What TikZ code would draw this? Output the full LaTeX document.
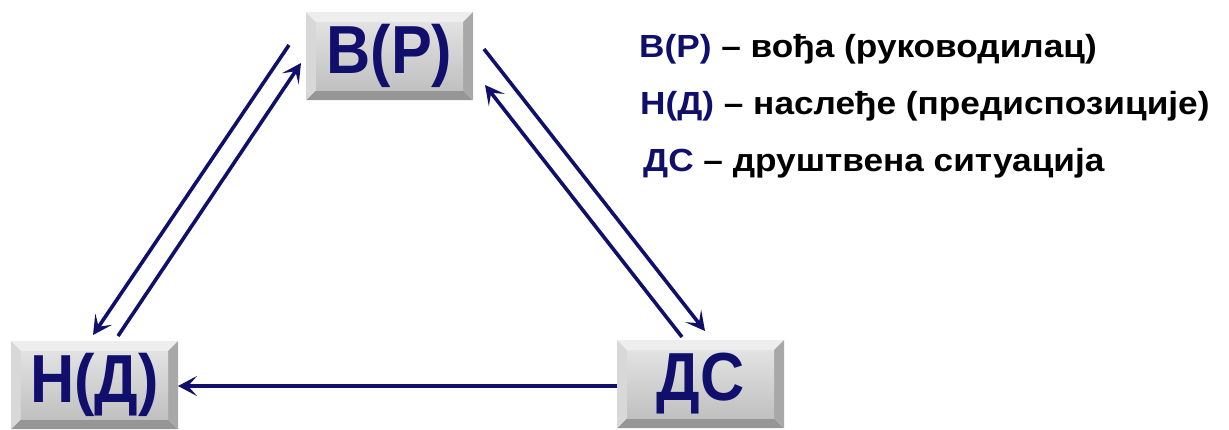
\documentclass[tikz,border=0pt]{standalone}
\usepackage{fontspec}
\setmainfont{Liberation Sans}
\newfontfamily\cf{Liberation Sans}[FakeStretch=0.9,BoldFeatures={FakeStretch=0.9}]
\newfontfamily\lf{Liberation Sans}[FakeStretch=1.1,BoldFeatures={FakeStretch=1.1}]
\usetikzlibrary{arrows.meta}
\definecolor{navy}{RGB}{16,16,108}
\definecolor{bvtop}{RGB}{238,238,238}
\definecolor{bvleft}{RGB}{216,216,216}
\definecolor{bvright}{RGB}{168,168,168}
\definecolor{bvbot}{RGB}{150,150,150}
\definecolor{facetop}{RGB}{226,226,226}
\definecolor{facebot}{RGB}{192,192,192}
\tikzset{
  bx/.style={minimum width=167bp, minimum height=88bp, inner sep=0pt, outer sep=0pt,
    text=navy, font=\cf\bfseries\fontsize{68bp}{70bp}\selectfont},
  arr/.style={draw=navy, line width=3.6bp, -{Stealth[length=19bp,width=20bp,inset=9bp]}},
  leg/.style={anchor=base west, inner sep=0pt, font=\lf\bfseries\fontsize{32bp}{36bp}\selectfont},
}
\newcommand\bevelbox[1]{%
  \fill[bvtop] (#1.north west) -- (#1.north east) -- ([shift={(-10bp,-10bp)}]#1.north east) -- ([shift={(10bp,-10bp)}]#1.north west) -- cycle;
  \fill[bvbot] (#1.south west) -- (#1.south east) -- ([shift={(-10bp,10bp)}]#1.south east) -- ([shift={(10bp,10bp)}]#1.south west) -- cycle;
  \fill[bvleft] (#1.north west) -- ([shift={(10bp,-10bp)}]#1.north west) -- ([shift={(10bp,10bp)}]#1.south west) -- (#1.south west) -- cycle;
  \fill[bvright] (#1.north east) -- ([shift={(-10bp,-10bp)}]#1.north east) -- ([shift={(-10bp,10bp)}]#1.south east) -- (#1.south east) -- cycle;
  \shade[top color=facetop, bottom color=facebot] ([shift={(10bp,-10bp)}]#1.north west) rectangle ([shift={(-10bp,10bp)}]#1.south east);
}
\begin{document}
\begin{tikzpicture}[x=1bp,y=-1bp]
\useasboundingbox (0,0) rectangle (1229,429);
% box frames
\path (389.5,56) node[bx] (B) {\phantom{В}};
\path (94.5,385) node[bx] (N) {\phantom{Н}};
\path (700.5,384) node[bx] (D) {\phantom{Д}};
\bevelbox{B}
\bevelbox{N}
\bevelbox{D}
\node[bx] (Bt) at (B) {В(Р)};
\node[bx] (Nt) at (N) {Н(Д)};
\node[bx] (Dt) at (D) {ДС};
% connector end points
\coordinate (l1s) at (289,45);  \coordinate (l1e) at (93,335);
\coordinate (l2s) at (118,336); \coordinate (l2e) at (301,63);
\coordinate (r1s) at (484,49);  \coordinate (r1e) at (705,331);
\coordinate (r2s) at (682,337); \coordinate (r2e) at (485,85);
\coordinate (be) at (178,386);
\draw[arr] (l1s) -- (l1e);
\draw[arr] (l2s) -- (l2e);
\draw[arr] (r1s) -- (r1e);
\draw[arr] (r2s) -- (r2e);
\draw[arr] (D.west |- be) -- (N.east |- be);
% legend
\node[leg] (L1) at (639,57) {\textcolor{navy}{В(Р)} – вођа (руководилац)};
\node[leg] (L2) at (640,114) {\textcolor{navy}{Н(Д)} – наслеђе (предиспозиције)};
\node[leg] (L3) at (643,171) {\textcolor{navy}{ДС} – друштвена ситуација};
\end{tikzpicture}
\end{document}
